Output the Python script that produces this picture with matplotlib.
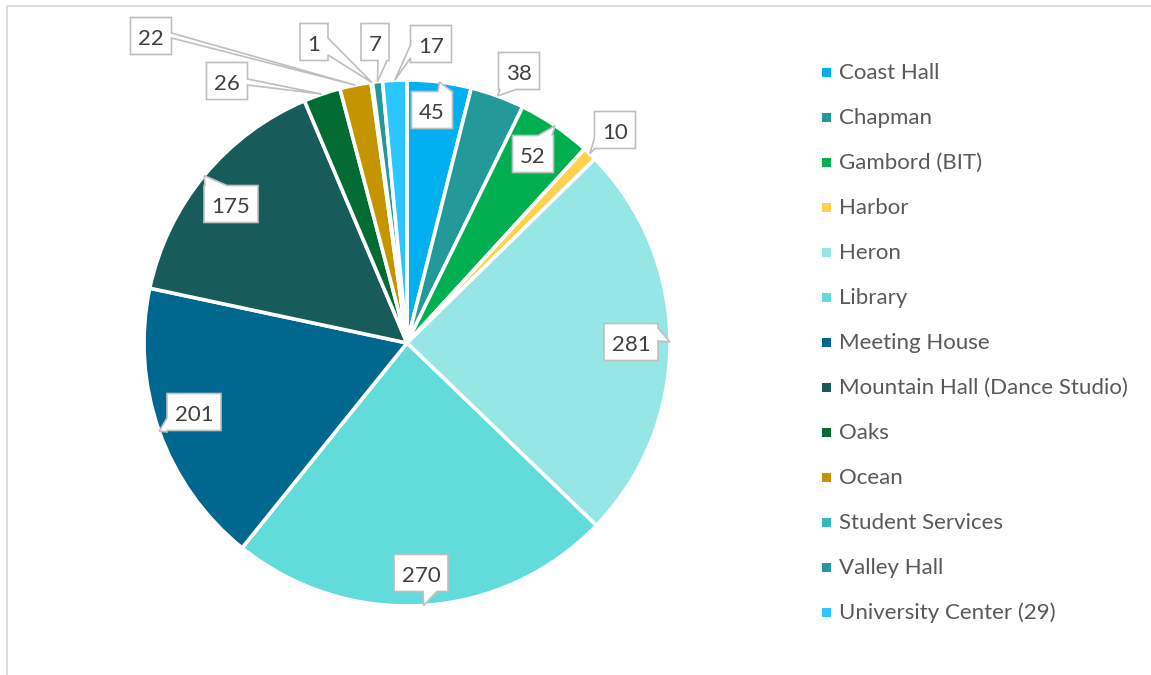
import numpy as np
import matplotlib
matplotlib.use("Agg")
import matplotlib.pyplot as plt
from matplotlib.patches import Polygon, Rectangle

plt.rcParams["font.family"] = ["Lato", "DejaVu Sans"]

# ---- data -------------------------------------------------------------
locations = [
    "Coast Hall", "Chapman", "Gambord (BIT)", "Harbor", "Heron", "Library",
    "Meeting House", "Mountain Hall (Dance Studio)", "Oaks", "Ocean",
    "Student Services", "Valley Hall", "University Center (29)",
]
counts = [45, 38, 52, 10, 281, 270, 201, 175, 26, 22, 1, 7, 17]
colors = [
    "#00B0F0", "#24999A", "#00B050", "#FFD24D", "#97E6E6", "#61DCDA",
    "#00678F", "#175B5A", "#026C33", "#C59500", "#2DBCB7", "#24999A",
    "#2BC6FF",
]

# ---- label callout layout (pixel space): box centre, box width,
#      side the pointer leaves from, and where the pointer base sits
callouts = [
    (432, 110, 41, "top", 438, 452),
    (519, 71, 41, "bottom", 500, 516),
    (533, 154, 41, "top", 538, 552),
    (615, 130, 41, "left", 138, 149),
    (631, 342, 54, "right", 328, 341),
    (421, 573, 54, "bottom", 423, 437),
    (194, 412, 54, "left", 418, 432),
    (231, 204, 54, "top", 205, 227),
    (227, 81, 41, "right", 79, 85),
    (151, 36, 41, "right", 33, 38),
    (314, 42, 28, "right", 38, 55),
    (375, 42, 28, "bottom", 378, 387),
    (431, 44, 41, "left", 45, 58),
]

W, H = 1151, 675
CX, CY, R = 407, 343, 263
BOX_H = 37
TEXT = "#404040"
LEG_TEXT = "#595959"

fig = plt.figure(figsize=(W / 100, H / 100), dpi=100)
ax = fig.add_axes([0, 0, 1, 1])

# y axis runs downward, so a counter-clockwise pie starting at -90 deg
# reads clockwise from 12 o'clock on screen
wedges, _ = ax.pie(
    counts, colors=colors, center=(CX, CY), radius=R,
    startangle=-90, counterclock=True,
    wedgeprops=dict(edgecolor="white", linewidth=2.6),
)
ax.set_xlim(0, W)
ax.set_ylim(H, 0)
ax.set_aspect("auto")
ax.axis("off")


def callout_shape(cx, cy, w, h, side, b0, b1, tip):
    x0, x1 = cx - w / 2, cx + w / 2
    y0, y1 = cy - h / 2, cy + h / 2
    pts = [(x0, y0)]
    if side == "top":
        pts += [(b0, y0), tip, (b1, y0)]
    pts.append((x1, y0))
    if side == "right":
        pts += [(x1, b0), tip, (x1, b1)]
    pts.append((x1, y1))
    if side == "bottom":
        pts += [(b1, y1), tip, (b0, y1)]
    pts.append((x0, y1))
    if side == "left":
        pts += [(x0, b1), tip, (x0, b0)]
    return pts


total = sum(counts)
cum = np.cumsum([0] + counts[:-1])
for value, start, (bx, by, bw, side, b0, b1) in zip(counts, cum, callouts):
    theta = np.deg2rad(-90 + (start + value / 2) / total * 360)
    tip = (CX + R * np.cos(theta), CY + R * np.sin(theta))
    poly = Polygon(callout_shape(bx, by, bw, BOX_H, side, b0, b1, tip),
                   closed=True, facecolor="white", edgecolor="#BFBFBF",
                   linewidth=1.2, joinstyle="miter", zorder=5)
    ax.add_patch(poly)
    ax.text(bx, by + 1, str(value), ha="center", va="center_baseline",
            fontsize=16, color=TEXT, zorder=6)

# legend column
for i, (name, col) in enumerate(zip(locations, colors)):
    y = 72 + 45 * i
    ax.add_patch(Rectangle((822, y - 4.5), 9, 9, facecolor=col,
                           edgecolor="none"))
    ax.text(839, y - 1, name, ha="left", va="center_baseline",
            fontsize=16, color=LEG_TEXT)

# chart area border
ax.plot([7, 7], [H, 6], color="#D9D9D9", lw=1.3, solid_capstyle="butt")
ax.plot([7, W], [6, 6], color="#D9D9D9", lw=1.3, solid_capstyle="butt")

fig.savefig("out.png", dpi=100, facecolor="white")
